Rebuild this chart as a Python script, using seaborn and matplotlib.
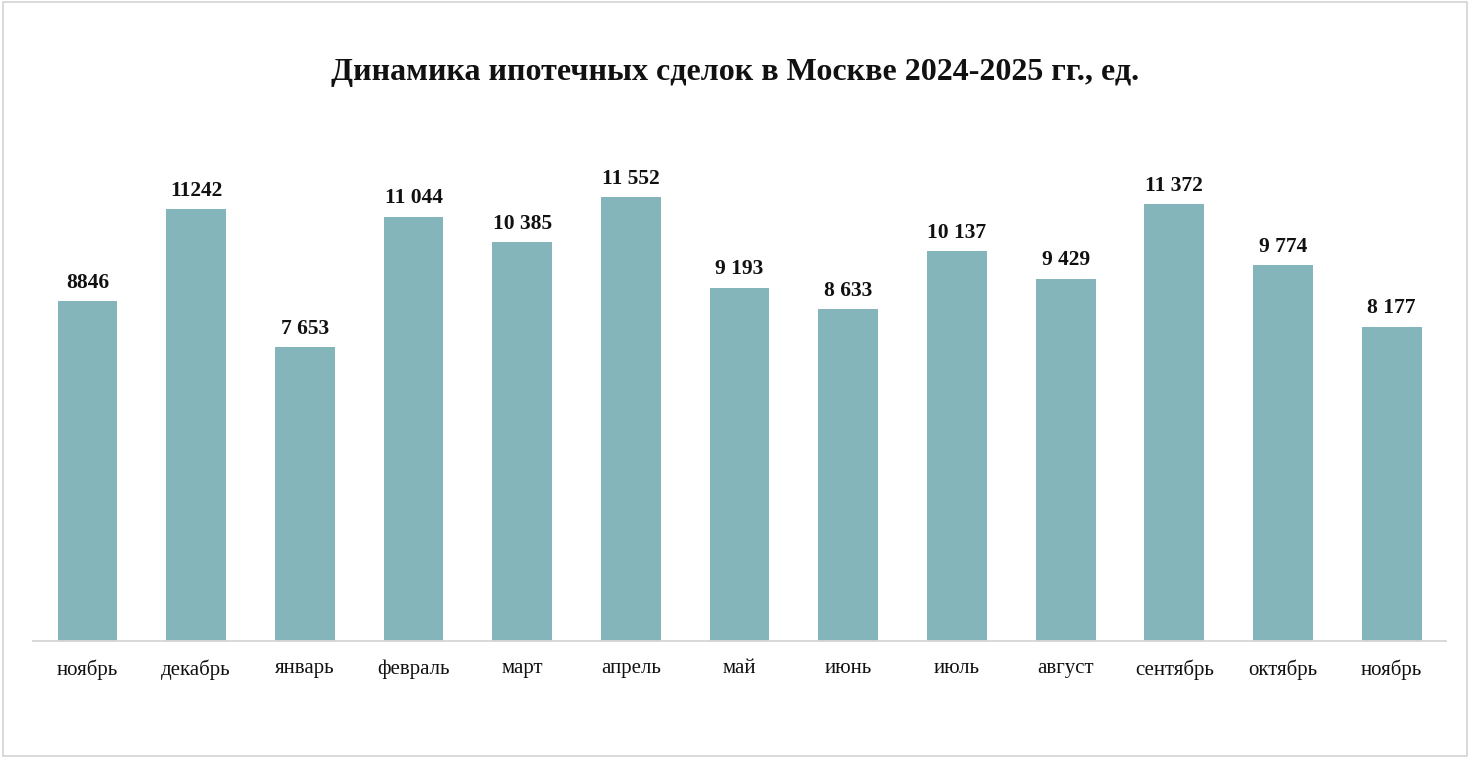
import pandas as pd
import matplotlib.pyplot as plt
import seaborn as sns
from matplotlib.patches import Rectangle

# Data
months = ["ноябрь", "декабрь", "январь", "февраль", "март", "апрель", "май",
          "июнь", "июль", "август", "сентябрь", "октябрь", "ноябрь"]
deals = [8846, 11242, 7653, 11044, 10385, 11552, 9193,
         8633, 10137, 9429, 11372, 9774, 8177]
value_labels = ["8846", "11242", "7 653", "11 044", "10 385", "11 552", "9 193",
                "8 633", "10 137", "9 429", "11 372", "9 774", "8 177"]

df = pd.DataFrame({"pos": range(len(months)), "month": months, "deals": deals})

sns.set_theme(style="white")
plt.rcParams['font.family'] = ['Liberation Serif', 'DejaVu Serif']

fig = plt.figure(figsize=(14.7, 7.58), dpi=100)
ax = fig.add_axes([0.0225, 0.1544, 0.9612, 0.6336])

sns.barplot(data=df, x="pos", y="deals", color="#84b5ba", saturation=1,
            width=0.55, linewidth=0, ax=ax)

for i, (v, lab) in enumerate(zip(deals, value_labels)):
    ax.annotate(lab, (i, v), xytext=(0, 6), textcoords="offset points",
                ha="center", va="bottom", fontsize=15.5, fontweight="bold",
                color="#111111")

ax.set_xlim(-0.5, len(months) - 0.5)
ax.set_ylim(0, 12500)
ax.set_xticks(range(len(months)))
ax.set_xticklabels(months, fontsize=15, color="#111111")
ax.set_yticks([])
ax.set_xlabel("")
ax.set_ylabel("")
ax.tick_params(axis="x", length=0, pad=13)
for s in ["top", "right", "left"]:
    ax.spines[s].set_visible(False)
ax.spines["bottom"].set_color("#d6d6d6")
ax.spines["bottom"].set_linewidth(1.3)

fig.suptitle("Динамика ипотечных сделок в Москве 2024-2025 гг., ед.",
             y=0.923, fontsize=23, fontweight="bold", color="#111111")

# light frame around the chart area
fig.patches.append(Rectangle((0.002, 0.003), 0.996, 0.994, transform=fig.transFigure,
                             fill=False, edgecolor="#d3d3d3", linewidth=1.2))

plt.savefig("out.png", dpi=100)
plt.close()
